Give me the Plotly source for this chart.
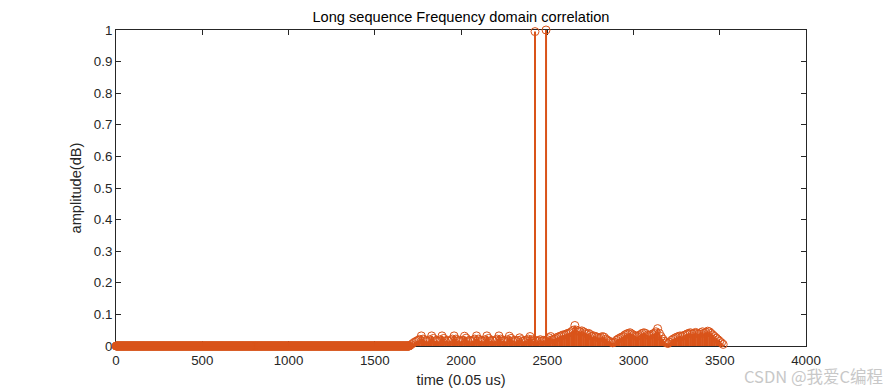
import numpy as np
import plotly.graph_objects as go

# ---------------- data ----------------
quiet_step = 2                         # time units between quiet (zero) samples
quiet_values = [0.0] * 851             # samples 0 .. 1700 are all zero
noise_start = 1710
noise_step = 10
noise_values = [
    0.004, 0.008, 0.012, 0.015, 0.018, 0.021, 0.032, 0.022, 0.016, 0.018,   # 1710-1800
    0.015, 0.020, 0.032, 0.024, 0.016, 0.018, 0.015, 0.020, 0.032, 0.024,   # 1810-1900
    0.016, 0.018, 0.015, 0.017, 0.022, 0.032, 0.022, 0.016, 0.018, 0.015,   # 1910-2000
    0.018, 0.031, 0.025, 0.016, 0.018, 0.015, 0.017, 0.022, 0.032, 0.022,   # 2010-2100
    0.016, 0.018, 0.015, 0.020, 0.032, 0.024, 0.016, 0.018, 0.015, 0.017,   # 2110-2200
    0.022, 0.032, 0.022, 0.016, 0.018, 0.015, 0.020, 0.031, 0.024, 0.016,   # 2210-2300
    0.018, 0.015, 0.018, 0.026, 0.020, 0.015, 0.017, 0.018, 0.022, 0.030,   # 2310-2400
    0.020, 0.016, 0.018, 0.015, 0.017, 0.020, 0.016, 0.018, 0.017, 0.020,   # 2410-2500
    0.026, 0.030, 0.020, 0.022, 0.025, 0.028, 0.030, 0.032, 0.035, 0.035,   # 2510-2600
    0.038, 0.040, 0.042, 0.045, 0.050, 0.065, 0.050, 0.048, 0.045, 0.048,   # 2610-2700
    0.045, 0.042, 0.038, 0.040, 0.036, 0.030, 0.032, 0.030, 0.028, 0.025,   # 2710-2800
    0.027, 0.030, 0.028, 0.022, 0.018, 0.015, 0.012, 0.010, 0.012, 0.018,   # 2810-2900
    0.022, 0.025, 0.028, 0.030, 0.035, 0.038, 0.040, 0.042, 0.038, 0.035,   # 2910-3000
    0.032, 0.030, 0.033, 0.036, 0.040, 0.042, 0.040, 0.035, 0.033, 0.035,   # 3010-3100
    0.038, 0.040, 0.045, 0.055, 0.040, 0.030, 0.022, 0.015, 0.010, 0.008,   # 3110-3200
    0.012, 0.018, 0.022, 0.025, 0.028, 0.030, 0.032, 0.030, 0.033, 0.035,   # 3210-3300
    0.038, 0.040, 0.042, 0.038, 0.040, 0.043, 0.040, 0.038, 0.042, 0.045,   # 3310-3400
    0.040, 0.043, 0.047, 0.045, 0.040, 0.035, 0.030, 0.025, 0.020, 0.015,   # 3410-3500
    0.010, 0.005,                                                            # 3510-3520
]
peak_times = [2429, 2493]
peak_values = [0.995, 1.0]

x_ticks = [0, 500, 1000, 1500, 2000, 2500, 3000, 3500, 4000]
y_ticks = [0, 0.1, 0.2, 0.3, 0.4, 0.5, 0.6, 0.7, 0.8, 0.9, 1]
y_tick_labels = ["0", "0.1", "0.2", "0.3", "0.4", "0.5", "0.6", "0.7", "0.8", "0.9", "1"]

title_text = "Long sequence Frequency domain correlation"
x_title = "time (0.05 us)"
y_title = "amplitude(dB)"
watermark = "CSDN @我爱C编程"

# ---------------- build ----------------
quiet_t = np.arange(len(quiet_values)) * quiet_step
noise_t = noise_start + np.arange(len(noise_values)) * noise_step

all_t = np.concatenate([quiet_t, noise_t, peak_times])
all_v = np.concatenate([quiet_values, noise_values, peak_values])

COL = "#D95319"

def stem_xy(t, v):
    sx, sy = [], []
    for a, b in zip(t, v):
        sx += [a, a, None]
        sy += [0, b, None]
    return sx, sy

sx, sy = stem_xy(noise_t, noise_values)
px, py = stem_xy(peak_times, peak_values)

fig = go.Figure()
fig.add_trace(go.Scatter(x=sx, y=sy, mode="lines", line=dict(color=COL, width=2.2),
                         hoverinfo="skip", showlegend=False, cliponaxis=False))
fig.add_trace(go.Scatter(x=px, y=py, mode="lines", line=dict(color=COL, width=2),
                         hoverinfo="skip", showlegend=False, cliponaxis=False))
fig.add_trace(go.Scatter(x=all_t, y=all_v, mode="markers",
                         marker=dict(symbol="circle-open", size=8, color=COL,
                                     line=dict(width=1, color=COL)),
                         showlegend=False, cliponaxis=False))

axis_common = dict(
    showgrid=False, zeroline=False, showline=True, linecolor="#262626", linewidth=1,
    ticks="inside", ticklen=5, tickcolor="#262626", mirror="ticks",
    tickfont=dict(family="Arial", size=13.3, color="#262626"),
    layer="below traces", automargin=False,
)

# page body has an 8px default margin, so the figure is 8px smaller than the window
fig.update_layout(
    width=883, height=380,
    margin=dict(l=108, r=85, t=22, b=42),
    paper_bgcolor="white", plot_bgcolor="white",
    title=dict(text=title_text, x=0.513, xanchor="center", y=0.976, yanchor="middle",
               automargin=False,
               font=dict(family="Arial", size=14.6, color="#000000")),
    xaxis=dict(range=[0, 4000], tickvals=x_ticks, ticktext=[str(v) for v in x_ticks],
               ticklabelstandoff=2,
               title=dict(text=x_title, standoff=9,
                          font=dict(family="Arial", size=14.6, color="#262626")),
               **axis_common),
    yaxis=dict(range=[0, 1], tickvals=y_ticks, ticktext=y_tick_labels,
               title=dict(text=y_title, standoff=8,
                          font=dict(family="Arial", size=14.6, color="#262626")),
               **axis_common),
    annotations=[dict(text=watermark, xref="paper", yref="paper", x=1.1145, y=-0.094,
                      xanchor="right", yanchor="middle", showarrow=False,
                      font=dict(family="Noto Sans CJK SC", size=16.5, color="#c8c8c8"))],
)

fig.write_html("out.html")
